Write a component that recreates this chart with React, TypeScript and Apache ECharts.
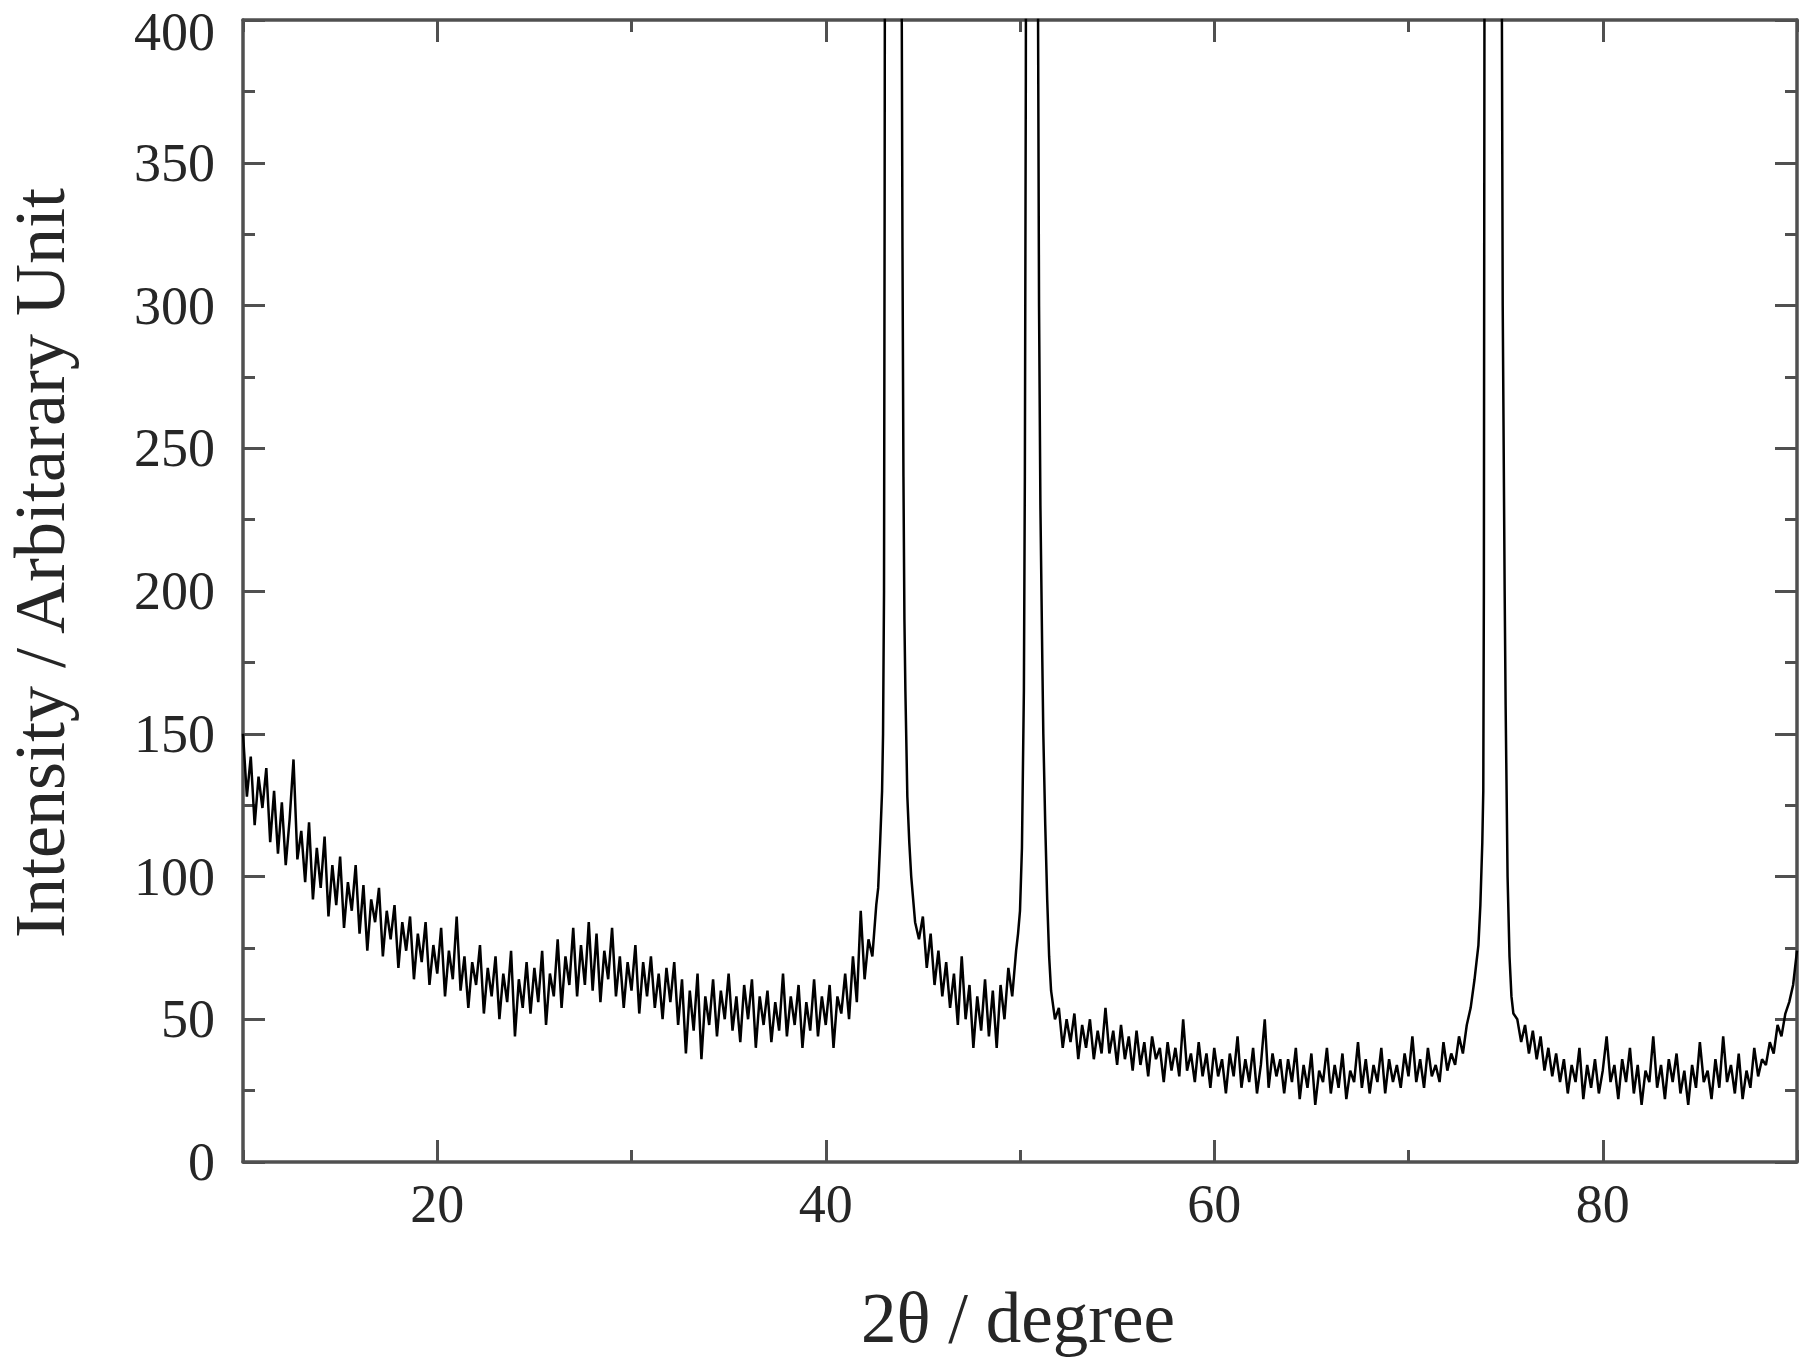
import React, { useEffect, useRef } from "react";
import * as echarts from "echarts";

// ---- Data ----
const STEP = 0.2;

// background 10.0 .. 42.6
const seg1Start = 10.0;
const seg1 = [
  150, 128, 142, 118, 135,
  124, 138, 112, 130, 108,
  126, 104, 120, 141, 106,
  116, 98, 119, 92, 110,
  96, 114, 86, 104, 90,
  107, 82, 98, 88, 104,
  80, 97, 74, 92, 84,
  96, 72, 88, 78, 90,
  68, 84, 74, 86, 64,
  80, 70, 84, 62, 76,
  66, 82, 58, 74, 64,
  86, 60, 72, 54, 70,
  62, 76, 52, 68, 58,
  72, 50, 66, 56, 74,
  44, 64, 54, 70, 52,
  68, 56, 74, 48, 66,
  58, 78, 54, 72, 62,
  82, 58, 76, 62, 84,
  60, 80, 56, 74, 64,
  82, 58, 72, 54, 70,
  60, 76, 52, 70, 58,
  72, 54, 66, 50, 68,
  56, 70, 48, 64, 38,
  60, 46, 66, 36, 58,
  48, 64, 44, 60, 50,
  66, 46, 58, 42, 62,
  50, 64, 40, 58, 48,
  60, 42, 56, 46, 66,
  44, 58, 48, 62, 40,
  56, 46, 64, 44, 58,
  48, 62, 40, 58, 52,
  66, 50, 72, 56, 88,
  64, 78, 72, 90,
];

// first reflection (~43.5 deg)
const peak1Angles = [42.7, 42.8, 42.9, 42.95, 43.0, 43.03, 43.06, 43.15, 43.3, 43.45, 43.6, 43.75, 43.85, 43.9, 43.95, 44.0, 44.05, 44.1, 44.2, 44.3, 44.4, 44.5, 44.6];
const peak1Counts = [96, 112, 130, 150, 200, 330, 520, 1200, 2200, 2600, 2000, 1200, 620, 430, 320, 240, 190, 165, 128, 112, 100, 92, 84];

// background 44.8 .. 49.8
const seg2Start = 44.8;
const seg2 = [
  78, 86, 68, 80, 62, 74, 58, 70, 54, 66,
  48, 72, 50, 62, 40, 58, 46, 64, 44, 60,
  40, 62, 50, 68, 58, 74,
];

// second reflection (~50.6 deg)
const peak2Angles = [49.9, 50.0, 50.1, 50.2, 50.25, 50.3, 50.33, 50.45, 50.6, 50.75, 50.88, 50.93, 50.98, 51.05, 51.15, 51.2, 51.3, 51.4, 51.5];
const peak2Counts = [80, 88, 110, 165, 240, 380, 560, 1100, 1500, 1000, 560, 400, 300, 230, 175, 150, 118, 92, 72];

// background 51.6 .. 73.4
const seg3Start = 51.6;
const seg3 = [
  60, 50, 54, 40, 50,
  42, 52, 36, 48, 40,
  50, 36, 46, 38, 54,
  38, 46, 34, 48, 36,
  44, 32, 46, 34, 42,
  30, 44, 36, 40, 28,
  42, 32, 40, 30, 50,
  32, 38, 28, 42, 30,
  38, 26, 40, 30, 36,
  24, 38, 30, 44, 26,
  36, 28, 40, 24, 34,
  50, 26, 38, 30, 36,
  24, 36, 28, 40, 22,
  34, 26, 38, 20, 32,
  28, 40, 24, 34, 26,
  38, 22, 32, 28, 42,
  26, 36, 24, 34, 28,
  40, 24, 36, 28, 34,
  26, 38, 30, 44, 28,
  36, 26, 40, 30, 34,
  28, 42, 32, 38, 34,
  44, 38, 48, 54, 64,
];

// third reflection (~74.3 deg)
const peak3Angles = [73.5, 73.6, 73.7, 73.8, 73.85, 73.88, 73.91, 73.95, 74.1, 74.3, 74.5, 74.7, 74.8, 74.85, 74.95, 75.0, 75.1, 75.2, 75.3, 75.4];
const peak3Counts = [70, 76, 90, 112, 130, 200, 400, 700, 1400, 1700, 1300, 700, 420, 300, 200, 160, 100, 72, 58, 52];

// background 75.6 .. 90.0
const seg4Start = 75.6;
const seg4 = [
  50, 42, 48, 38, 46,
  36, 44, 32, 40, 30,
  38, 28, 36, 24, 34,
  28, 40, 22, 34, 26,
  36, 24, 32, 44, 28,
  34, 22, 36, 28, 40,
  24, 34, 20, 32, 28,
  44, 26, 34, 22, 36,
  28, 38, 24, 32, 20,
  34, 26, 42, 28, 32,
  22, 36, 26, 44, 28,
  34, 24, 38, 22, 32,
  26, 40, 30, 36, 34,
  42, 38, 48, 44, 52,
  56, 62, 74,
];

const majorXTicks = [20, 40, 60, 80];
const minorXTicks = [10, 30, 50, 70, 90];
const topYLabel = "400";
const yTitle = "Intensity / Arbitarary Unit";
const xTitle = "2θ / degree";

function gridSeg(start: number, vals: number[]): number[][] {
  return vals.map((v, i) => [+(start + i * STEP).toFixed(2), v]);
}
function pairSeg(xs: number[], ys: number[]): number[][] {
  return xs.map((x, i) => [x, ys[i]]);
}

const FONT = "'Liberation Serif', 'Times New Roman', serif";
const AXIS_COLOR = "#505050";
const TEXT_COLOR = "#262626";

export default function App() {
  const ref = useRef<HTMLDivElement>(null);
  useEffect(() => {
    if (!ref.current) return;
    const chart = echarts.init(ref.current, null, { renderer: "svg" });
    const data = [
      ...gridSeg(seg1Start, seg1),
      ...pairSeg(peak1Angles, peak1Counts),
      ...gridSeg(seg2Start, seg2),
      ...pairSeg(peak2Angles, peak2Counts),
      ...gridSeg(seg3Start, seg3),
      ...pairSeg(peak3Angles, peak3Counts),
      ...gridSeg(seg4Start, seg4),
    ];
    const axisLine = { show: true, onZero: false, lineStyle: { color: AXIS_COLOR, width: 3.5 } };
    const tickStyle = { color: AXIS_COLOR, width: 3 };
    const baseX = {
      type: "value" as const,
      min: 10,
      max: 90,
      interval: 10,
      splitLine: { show: false },
    };
    const baseY = {
      type: "value" as const,
      min: 0,
      max: 400,
      interval: 50,
      splitLine: { show: false },
    };
    chart.setOption({
      animation: false,
      backgroundColor: "#ffffff",
      grid: { left: 243, right: 3, top: 20, bottom: 195, containLabel: false },
      xAxis: [
        {
          ...baseX,
          position: "bottom",
          axisLine,
          axisTick: { show: true, inside: true, length: 12, customValues: minorXTicks, lineStyle: tickStyle },
          axisLabel: {
            show: true,
            customValues: majorXTicks,
            formatter: (v: number) => (v % 20 === 0 ? String(v) : ""),
            margin: 22,
            fontFamily: FONT,
            fontSize: 54,
            lineHeight: 40,
            color: TEXT_COLOR,
          },
        },
        {
          ...baseX,
          position: "bottom",
          axisLine: { show: false, onZero: false },
          axisTick: { show: true, inside: true, length: 22, customValues: majorXTicks, lineStyle: tickStyle },
          axisLabel: { show: false },
        },
        {
          ...baseX,
          position: "top",
          axisLine,
          axisTick: { show: true, inside: true, length: 12, customValues: minorXTicks, lineStyle: tickStyle },
          axisLabel: { show: false },
        },
        {
          ...baseX,
          position: "top",
          axisLine: { show: false, onZero: false },
          axisTick: { show: true, inside: true, length: 22, customValues: majorXTicks, lineStyle: tickStyle },
          axisLabel: { show: false },
        },
      ],
      yAxis: [
        {
          ...baseY,
          position: "left",
          axisLine,
          axisTick: { show: true, inside: true, length: 22, lineStyle: tickStyle },
          minorTick: { show: true, splitNumber: 2, length: 12, lineStyle: tickStyle },
          axisLabel: {
            show: true,
            showMaxLabel: false,
            margin: 28,
            fontFamily: FONT,
            fontSize: 54,
            lineHeight: 38,
            color: TEXT_COLOR,
          },
        },
        {
          ...baseY,
          position: "right",
          axisLine,
          axisTick: { show: true, inside: true, length: 22, lineStyle: tickStyle },
          minorTick: { show: true, splitNumber: 2, length: 12, lineStyle: tickStyle },
          axisLabel: { show: false },
        },
      ],
      graphic: [
        {
          type: "text",
          x: 215,
          y: 32,
          style: {
            text: topYLabel,
            font: `54px ${FONT}`,
            lineHeight: 40,
            fill: TEXT_COLOR,
            textAlign: "right",
            textVerticalAlign: "middle",
          },
        },
        {
          type: "text",
          x: 40,
          y: 563,
          rotation: Math.PI / 2,
          style: {
            text: yTitle,
            font: `72px ${FONT}`,
            lineHeight: 62,
            fill: TEXT_COLOR,
            textAlign: "center",
            textVerticalAlign: "middle",
          },
        },
        {
          type: "text",
          x: 1018,
          y: 1318,
          style: {
            text: xTitle,
            font: `71px ${FONT}`,
            lineHeight: 62,
            fill: TEXT_COLOR,
            textAlign: "center",
            textVerticalAlign: "middle",
          },
        },
      ],
      series: [
        {
          type: "line",
          xAxisIndex: 0,
          yAxisIndex: 0,
          data,
          symbol: "none",
          clip: true,
          lineStyle: { color: "#000000", width: 2.5 },
          z: 1,
        },
      ],
    });
    return () => chart.dispose();
  }, []);
  return (
    <div
      ref={ref}
      style={{ position: "absolute", left: 0, top: 0, width: 1800, height: 1357, background: "#fff" }}
    />
  );
}
